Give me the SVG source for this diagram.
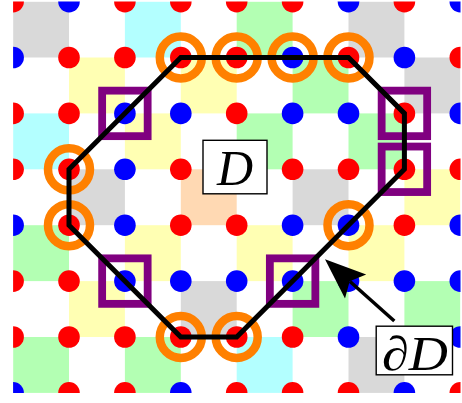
<svg xmlns="http://www.w3.org/2000/svg" width="462" height="403" viewBox="0 0 462 403">
<style>
.gy{fill:#d9d9d9}.cy{fill:#b3ffff}.ye{fill:#ffffb3}.gr{fill:#b3ffb3}.pe{fill:#ffd9b3}
.r{fill:#ff0000}.b{fill:#0000ff}
.ring{fill:none;stroke:#ff8000;stroke-width:8.5}
.sq{fill:none;stroke:#800080;stroke-width:7.8}
.bd{fill:none;stroke:#000;stroke-width:5;stroke-linejoin:miter}
.lbl{fill:#fff;stroke:#000;stroke-width:1.4}
.t{font-family:"Liberation Serif","DejaVu Serif",serif;font-style:italic;fill:#000}
</style>
<defs>
<clipPath id="clip"><rect x="13.1" y="1.6" width="447.4" height="391.3"/></clipPath>
</defs>
<rect width="462" height="403" fill="#fff"/>
<g id="lattice" clip-path="url(#clip)">
<g id="cells">
<rect class="gy" x="13.1" y="1.6" width="55.9" height="55.9"/>
<rect class="cy" x="124.9" y="1.6" width="55.9" height="55.9"/>
<rect class="gr" x="236.7" y="1.6" width="55.9" height="55.9"/>
<rect class="gy" x="348.5" y="1.6" width="55.9" height="55.9"/>
<rect class="ye" x="69" y="57.5" width="55.9" height="55.9"/>
<rect class="ye" x="180.8" y="57.5" width="55.9" height="55.9"/>
<rect class="gr" x="292.6" y="57.5" width="55.9" height="55.9"/>
<rect class="gy" x="404.4" y="57.5" width="55.9" height="55.9"/>
<rect class="cy" x="13.1" y="113.4" width="55.9" height="55.9"/>
<rect class="ye" x="124.9" y="113.4" width="55.9" height="55.9"/>
<rect class="gr" x="236.7" y="113.4" width="55.9" height="55.9"/>
<rect class="gr" x="348.5" y="113.4" width="55.9" height="55.9"/>
<rect class="gy" x="69" y="169.3" width="55.9" height="55.9"/>
<rect class="pe" x="180.8" y="169.3" width="55.9" height="55.9"/>
<rect class="gy" x="292.6" y="169.3" width="55.9" height="55.9"/>
<rect class="ye" x="404.4" y="169.3" width="55.9" height="55.9"/>
<rect class="gr" x="13.1" y="225.2" width="55.9" height="55.9"/>
<rect class="ye" x="124.9" y="225.2" width="55.9" height="55.9"/>
<rect class="ye" x="236.7" y="225.2" width="55.9" height="55.9"/>
<rect class="ye" x="348.5" y="225.2" width="55.9" height="55.9"/>
<rect class="ye" x="69" y="281.1" width="55.9" height="55.9"/>
<rect class="gy" x="180.8" y="281.1" width="55.9" height="55.9"/>
<rect class="gr" x="292.6" y="281.1" width="55.9" height="55.9"/>
<rect class="gr" x="404.4" y="281.1" width="55.9" height="55.9"/>
<rect class="gr" x="13.1" y="337" width="55.9" height="55.9"/>
<rect class="gr" x="124.9" y="337" width="55.9" height="55.9"/>
<rect class="cy" x="236.7" y="337" width="55.9" height="55.9"/>
<rect class="gy" x="348.5" y="337" width="55.9" height="55.9"/>
</g>
<g id="dots">
<circle class="r" cx="13.1" cy="1.6" r="10.8"/><circle class="b" cx="69" cy="1.6" r="10.8"/><circle class="r" cx="124.9" cy="1.6" r="10.8"/><circle class="r" cx="180.8" cy="1.6" r="10.8"/><circle class="r" cx="236.7" cy="1.6" r="10.8"/><circle class="r" cx="292.6" cy="1.6" r="10.8"/><circle class="b" cx="348.5" cy="1.6" r="10.8"/><circle class="r" cx="404.4" cy="1.6" r="10.8"/><circle class="b" cx="460.3" cy="1.6" r="10.8"/>
<circle class="b" cx="13.1" cy="57.5" r="10.8"/><circle class="r" cx="69" cy="57.5" r="10.8"/><circle class="r" cx="124.9" cy="57.5" r="10.8"/><circle class="r" cx="180.8" cy="57.5" r="10.8"/><circle class="r" cx="236.7" cy="57.5" r="10.8"/><circle class="b" cx="292.6" cy="57.5" r="10.8"/><circle class="r" cx="348.5" cy="57.5" r="10.8"/><circle class="b" cx="404.4" cy="57.5" r="10.8"/><circle class="r" cx="460.3" cy="57.5" r="10.8"/>
<circle class="r" cx="13.1" cy="113.4" r="10.8"/><circle class="r" cx="69" cy="113.4" r="10.8"/><circle class="b" cx="124.9" cy="113.4" r="10.8"/><circle class="b" cx="180.8" cy="113.4" r="10.8"/><circle class="r" cx="236.7" cy="113.4" r="10.8"/><circle class="b" cx="292.6" cy="113.4" r="10.8"/><circle class="b" cx="348.5" cy="113.4" r="10.8"/><circle class="r" cx="404.4" cy="113.4" r="10.8"/><circle class="b" cx="460.3" cy="113.4" r="10.8"/>
<circle class="r" cx="13.1" cy="169.3" r="10.8"/><circle class="r" cx="69" cy="169.3" r="10.8"/><circle class="b" cx="124.9" cy="169.3" r="10.8"/><circle class="r" cx="180.8" cy="169.3" r="10.8"/><circle class="r" cx="292.6" cy="169.3" r="10.8"/><circle class="r" cx="348.5" cy="169.3" r="10.8"/><circle class="r" cx="404.4" cy="169.3" r="10.8"/><circle class="r" cx="460.3" cy="169.3" r="10.8"/>
<circle class="b" cx="13.1" cy="225.2" r="10.8"/><circle class="r" cx="69" cy="225.2" r="10.8"/><circle class="b" cx="124.9" cy="225.2" r="10.8"/><circle class="r" cx="180.8" cy="225.2" r="10.8"/><circle class="r" cx="236.7" cy="225.2" r="10.8"/><circle class="b" cx="292.6" cy="225.2" r="10.8"/><circle class="b" cx="348.5" cy="225.2" r="10.8"/><circle class="r" cx="404.4" cy="225.2" r="10.8"/><circle class="b" cx="460.3" cy="225.2" r="10.8"/>
<circle class="r" cx="13.1" cy="281.1" r="10.8"/><circle class="r" cx="69" cy="281.1" r="10.8"/><circle class="b" cx="124.9" cy="281.1" r="10.8"/><circle class="b" cx="180.8" cy="281.1" r="10.8"/><circle class="b" cx="236.7" cy="281.1" r="10.8"/><circle class="b" cx="292.6" cy="281.1" r="10.8"/><circle class="b" cx="348.5" cy="281.1" r="10.8"/><circle class="b" cx="404.4" cy="281.1" r="10.8"/><circle class="b" cx="460.3" cy="281.1" r="10.8"/>
<circle class="r" cx="13.1" cy="337" r="10.8"/><circle class="r" cx="69" cy="337" r="10.8"/><circle class="r" cx="124.9" cy="337" r="10.8"/><circle class="r" cx="180.8" cy="337" r="10.8"/><circle class="r" cx="236.7" cy="337" r="10.8"/><circle class="r" cx="292.6" cy="337" r="10.8"/><circle class="b" cx="348.5" cy="337" r="10.8"/><circle class="b" cx="460.3" cy="337" r="10.8"/>
<circle class="b" cx="13.1" cy="392.9" r="10.8"/><circle class="r" cx="69" cy="392.9" r="10.8"/><circle class="r" cx="124.9" cy="392.9" r="10.8"/><circle class="b" cx="180.8" cy="392.9" r="10.8"/><circle class="r" cx="236.7" cy="392.9" r="10.8"/><circle class="r" cx="292.6" cy="392.9" r="10.8"/><circle class="r" cx="348.5" cy="392.9" r="10.8"/><circle class="b" cx="404.4" cy="392.9" r="10.8"/><circle class="r" cx="460.3" cy="392.9" r="10.8"/>
</g>
</g>
<g id="ring1"><circle class="ring" cx="180.8" cy="57.5" r="21"/></g>
<g id="ring2"><circle class="ring" cx="236.7" cy="57.5" r="21"/></g>
<g id="ring3"><circle class="ring" cx="292.6" cy="57.5" r="21"/></g>
<g id="ring4"><circle class="ring" cx="348.5" cy="57.5" r="21"/></g>
<g id="ring5"><circle class="ring" cx="69" cy="169.3" r="21"/></g>
<g id="ring6"><circle class="ring" cx="69" cy="225.2" r="21"/></g>
<g id="ring7"><circle class="ring" cx="348.5" cy="225.2" r="21"/></g>
<g id="ring8"><circle class="ring" cx="180.8" cy="337" r="21"/></g>
<g id="ring9"><circle class="ring" cx="236.7" cy="337" r="21"/></g>
<g id="square1"><rect class="sq" x="102.15" y="90.65" width="45.5" height="45.5"/></g>
<g id="square2"><rect class="sq" x="381.65" y="90.65" width="45.5" height="45.5"/></g>
<g id="square3"><rect class="sq" x="381.65" y="146.55" width="45.5" height="45.5"/></g>
<g id="square4"><rect class="sq" x="102.15" y="258.35" width="45.5" height="45.5"/></g>
<g id="square5"><rect class="sq" x="269.85" y="258.35" width="45.5" height="45.5"/></g>
<g id="connectors">
<polygon class="bd" points="180.8,57.5 348.5,57.5 404.4,113.4 404.4,169.3 236.7,337 180.8,337 69,225.2 69,169.3"/>
<line x1="394.3" y1="321" x2="350" y2="281.5" stroke="#000" stroke-width="3.5"/>
<polygon points="325,259.3 366.2,274.6 349.7,281.2 345,298.6" fill="#000"/>
</g>
<g id="label-D">
<rect class="lbl" x="203" y="140.3" width="64" height="53.5"/>
<text class="t" x="235" y="185" font-size="50" text-anchor="middle">D</text>
</g>
<g id="label-dD">
<rect class="lbl" x="376.2" y="326.2" width="76.3" height="48.6"/>
<text class="t" x="382" y="369.5" font-size="48" textLength="66" lengthAdjust="spacingAndGlyphs">∂D</text>
</g>
</svg>
